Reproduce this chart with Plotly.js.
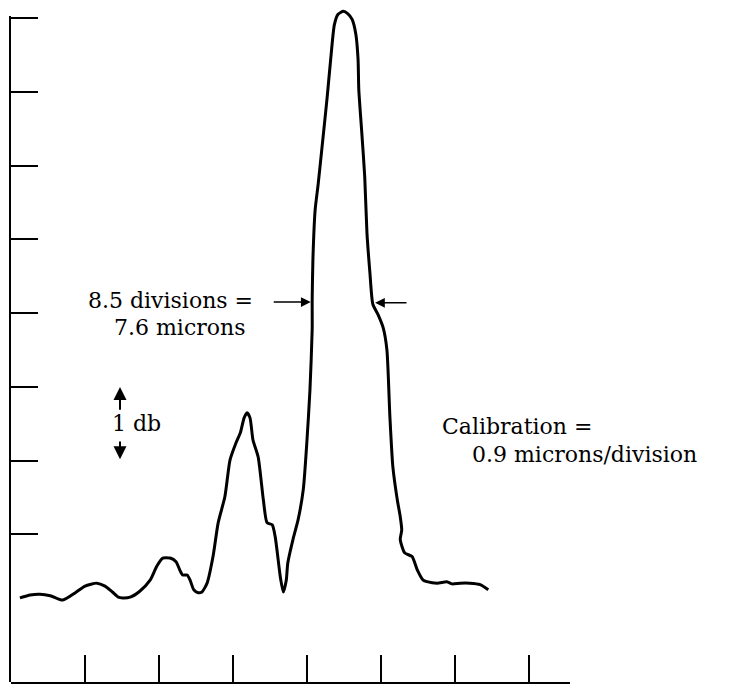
<!DOCTYPE html>
<html>
<head>
<meta charset="utf-8">
<script src="https://cdn.plot.ly/plotly-3.0.1.min.js"></script>
<style>html,body{margin:0;padding:0;background:#fff;}#chart{width:733px;height:685px;}</style>
</head>
<body>
<div id="chart"></div>
<script>
// Scan position (divisions) and relative signal level (scale divisions)
const position = [1.2, 2.6, 3.9, 5.3, 7.0, 8.7, 10.0, 11.6, 12.7, 13.7, 14.5, 15.1, 16.1, 17.4, 18.8, 19.7, 20.5, 21.5, 22.3, 22.8, 23.2, 23.8, 24.2, 24.7, 25.3, 25.8, 26.5, 27.3, 28.0, 28.9, 29.6, 30.4, 31.0, 31.5, 31.9, 32.3, 32.7, 33.4, 34.1, 34.6, 35.3, 35.7, 36.4, 36.8, 37.2, 37.4, 38.1, 38.8, 39.5, 40.0, 40.4, 40.7, 40.7, 40.8, 41.1, 41.5, 42.0, 42.7, 43.2, 43.7, 44.2, 44.9, 45.5, 46.1, 46.6, 46.9, 47.0, 47.4, 47.8, 48.1, 48.5, 48.9, 49.6, 50.3, 50.8, 51.2, 51.6, 52.2, 52.6, 52.8, 52.6, 53.2, 54.2, 54.9, 55.7, 56.2, 57.6, 58.9, 59.6, 60.7, 62.0, 63.4, 64.5];
const level = [1.14, 1.18, 1.19, 1.17, 1.11, 1.21, 1.30, 1.34, 1.30, 1.22, 1.15, 1.14, 1.15, 1.23, 1.38, 1.57, 1.68, 1.68, 1.63, 1.52, 1.45, 1.45, 1.38, 1.25, 1.21, 1.22, 1.34, 1.70, 2.16, 2.51, 3.01, 3.24, 3.38, 3.58, 3.65, 3.58, 3.28, 3.05, 2.47, 2.16, 2.13, 1.97, 1.42, 1.22, 1.38, 1.61, 1.93, 2.20, 2.61, 3.28, 3.96, 4.78, 5.18, 5.73, 6.40, 6.74, 7.22, 7.90, 8.44, 8.91, 9.05, 9.09, 9.06, 8.98, 8.78, 8.44, 8.03, 7.45, 6.85, 6.09, 5.55, 5.12, 4.98, 4.80, 4.50, 3.60, 2.92, 2.47, 2.24, 2.06, 1.93, 1.75, 1.70, 1.52, 1.38, 1.36, 1.34, 1.36, 1.33, 1.34, 1.34, 1.32, 1.25];

const xTicks = [10, 20, 30, 40, 50, 60, 70];
const yTicks = [2, 3, 4, 5, 6, 7, 8, 9];

const serif = {family: '"DejaVu Serif", "Liberation Serif", serif', size: 22, color: '#000'};

const traces = [
  {x: [], y: [], xaxis: 'x', yaxis: 'y2', type: 'scatter', mode: 'lines', showlegend: false},
  {x: position, y: level, type: 'scatter', mode: 'lines',
   line: {color: '#000', width: 3, shape: 'spline', smoothing: 0.6},
   hoverinfo: 'skip', showlegend: false}
];

const yMax = 677 / 73.78;
const y2Top = 9.03;
const layout = {
  width: 733, height: 685,
  margin: {l: 11, r: 163, t: 5, b: 3},
  paper_bgcolor: '#fff', plot_bgcolor: 'rgba(0,0,0,0)',
  showlegend: false,
  xaxis: {range: [0, 559 / 7.4], showgrid: false, zeroline: false,
          showline: true, linecolor: '#000', linewidth: 2,
          ticks: 'inside', tickvals: xTicks, ticklen: 27, tickwidth: 2, tickcolor: '#000',
          showticklabels: false, fixedrange: true},
  yaxis: {range: [0, yMax], showgrid: false, zeroline: false, showline: false,
          showticklabels: false, ticks: '', fixedrange: true},
  yaxis2: {domain: [0, y2Top / yMax], anchor: 'x', range: [0, y2Top], showgrid: false, zeroline: false,
           showline: true, linecolor: '#000', linewidth: 2,
           ticks: 'inside', tickvals: yTicks, ticklen: 27, tickwidth: 2, tickcolor: '#000',
           showticklabels: false, fixedrange: true},
  annotations: [
    {x: 10.2, y: 5.17, xref: 'x', yref: 'y', text: '8.5 divisions =', showarrow: false,
     xanchor: 'left', yanchor: 'middle', font: serif},
    {x: 13.6, y: 4.80, xref: 'x', yref: 'y', text: '7.6 microns', showarrow: false,
     xanchor: 'left', yanchor: 'middle', font: serif},
    {x: 13.4, y: 3.50, xref: 'x', yref: 'y', text: '1 db', showarrow: false,
     xanchor: 'left', yanchor: 'middle', font: serif},
    {x: 58.0, y: 3.46, xref: 'x', yref: 'y', text: 'Calibration =', showarrow: false,
     xanchor: 'left', yanchor: 'middle', font: serif},
    {x: 62.0, y: 3.09, xref: 'x', yref: 'y', text: '0.9 microns/division', showarrow: false,
     xanchor: 'left', yanchor: 'middle', font: serif},
    {x: 40.5, y: 5.15, ax: 35.3, ay: 5.15, xref: 'x', yref: 'y', axref: 'x', ayref: 'y',
     text: '', showarrow: true, arrowhead: 2, arrowsize: 1.3, arrowwidth: 1.5, arrowcolor: '#000'},
    {x: 49.2, y: 5.14, ax: 53.65, ay: 5.14, xref: 'x', yref: 'y', axref: 'x', ayref: 'y',
     text: '', showarrow: true, arrowhead: 2, arrowsize: 1.3, arrowwidth: 1.5, arrowcolor: '#000'},
    {x: 14.73, y: 4.00, ax: 14.73, ay: 3.67, xref: 'x', yref: 'y', axref: 'x', ayref: 'y',
     text: '', showarrow: true, arrowhead: 2, arrowsize: 1.3, arrowwidth: 2, arrowcolor: '#000'},
    {x: 14.73, y: 3.02, ax: 14.73, ay: 3.28, xref: 'x', yref: 'y', axref: 'x', ayref: 'y',
     text: '', showarrow: true, arrowhead: 2, arrowsize: 1.3, arrowwidth: 2, arrowcolor: '#000'}
  ]
};

Plotly.newPlot('chart', traces, layout, {staticPlot: true, displayModeBar: false});
</script>
</body>
</html>
